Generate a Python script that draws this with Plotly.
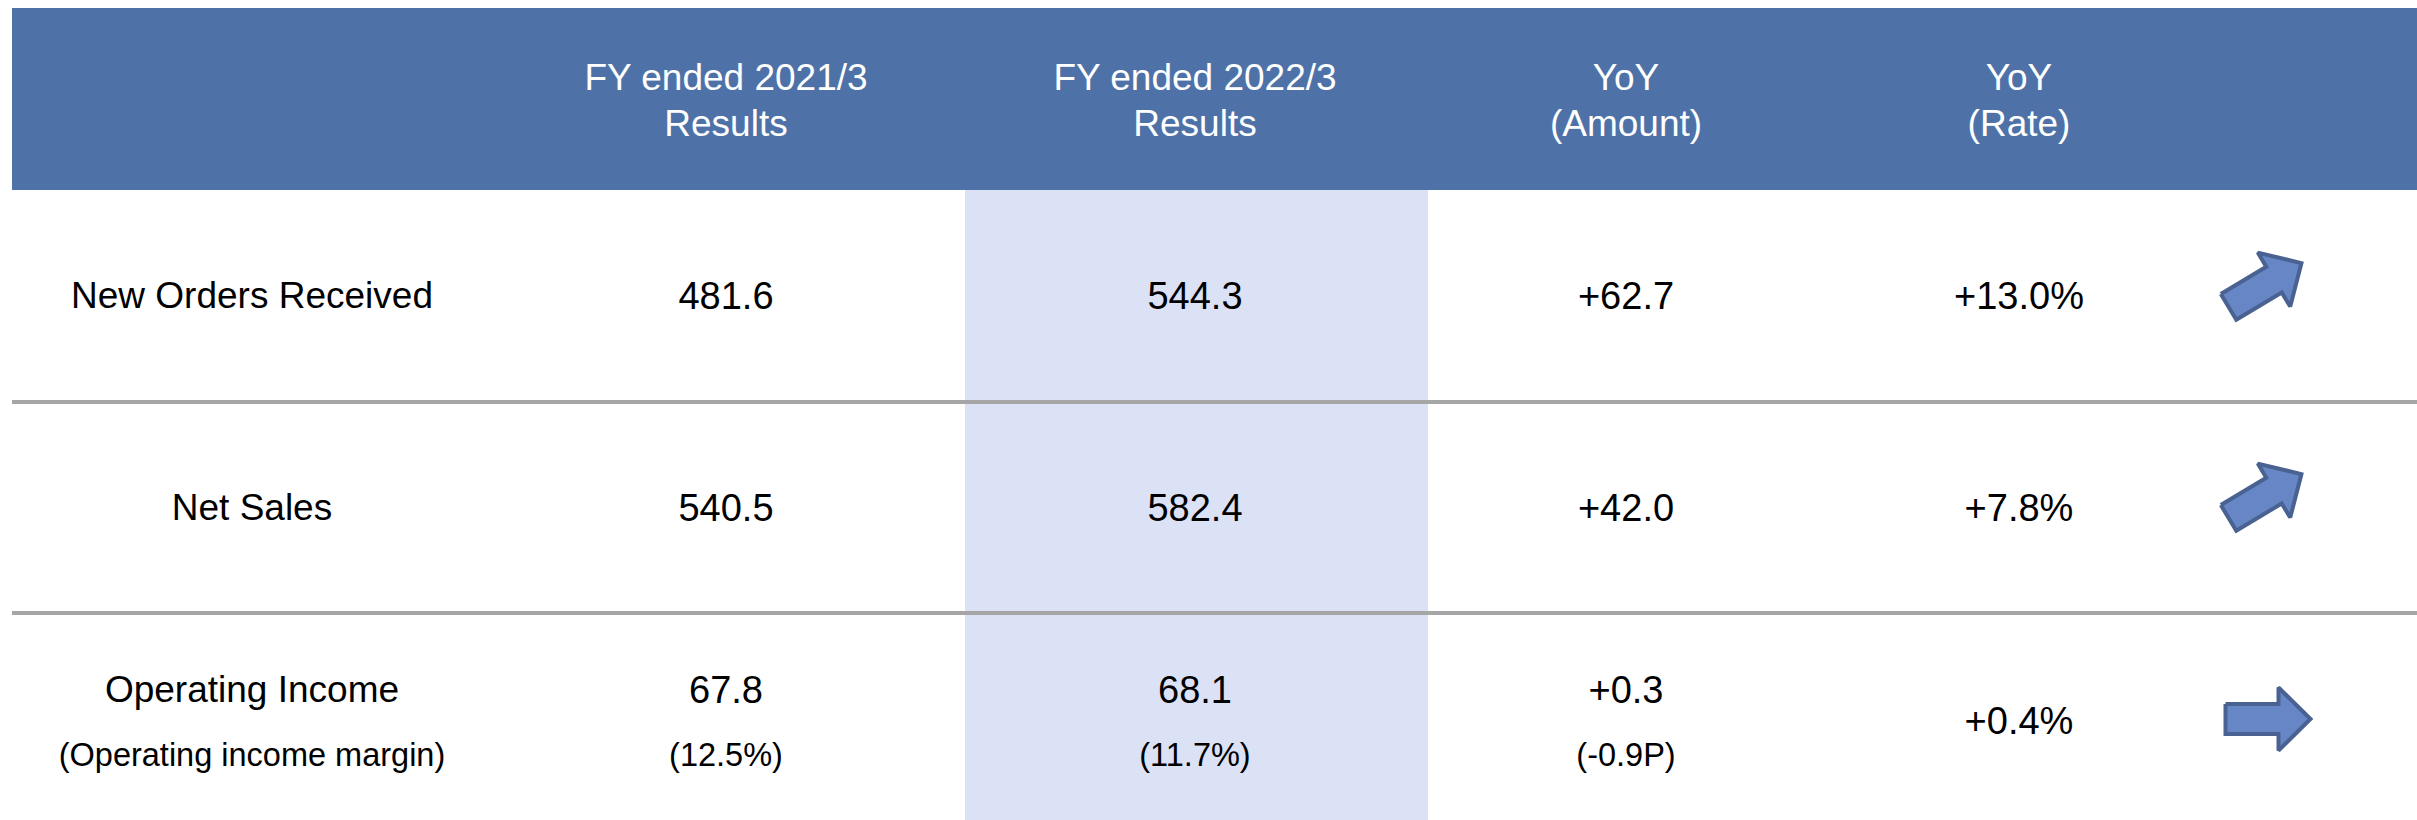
import math
import plotly.graph_objects as go

# ---- data ----
header_labels = ['FY ended 2021/3<br>Results', 'FY ended 2022/3<br>Results',
                 'YoY<br>(Amount)', 'YoY<br>(Rate)']
row_labels = ['New Orders Received', 'Net Sales', 'Operating Income']
row_sublabels = ['', '', '(Operating income margin)']
fy2021 = ['481.6', '540.5', '67.8']
fy2022 = ['544.3', '582.4', '68.1']
yoy_amount = ['+62.7', '+42.0', '+0.3']
yoy_rate = ['+13.0%', '+7.8%', '+0.4%']
fy2021_sub = ['', '', '(12.5%)']
fy2022_sub = ['', '', '(11.7%)']
yoy_amount_sub = ['', '', '(-0.9P)']
trend_angle = [31, 31, 0]          # arrow direction in degrees

# ---- layout (pixels) ----
W, H = 2417, 820
FONT = 'Liberation Sans, Arial, sans-serif'
HEADER_BLUE = '#4E72A8'
HIGHLIGHT = '#DCE2F6'
SEP_GRAY = '#A6A6A6'
ARROW_FILL = '#6686C5'
ARROW_LINE = '#4A6291'

TXT_DY = 3                        # plotly draws text a bit above its y
label_x = 252
col_x = [726, 1195, 1626, 2019]
arrow_x = [2265, 2265, 2268]
header_top, header_bot = 8, 190
header_line_y = [78, 124]
row_bot = [402, 613, 820]
row_y = [296, 508, 717]
row_main_y = [296, 508, 690]     # when a sub line exists
row_sub_y = [296, 508, 755]
arrow_y = [285, 496, 719]


def arrow_poly(cx, cy, ang):
    # block arrow, local frame: u along the arrow, v across
    L, hl, sw, hw = 85, 32, 15, 31.5
    pts = [(-L / 2, -sw), (L / 2 - hl, -sw), (L / 2 - hl, -hw), (L / 2, 0),
           (L / 2 - hl, hw), (L / 2 - hl, sw), (-L / 2, sw), (-L / 2, -sw)]
    t = math.radians(ang)
    xs = [cx + u * math.cos(t) + v * math.sin(t) for u, v in pts]
    ys = [cy - u * math.sin(t) + v * math.cos(t) for u, v in pts]
    return xs, ys


fig = go.Figure()

shapes = [
    dict(type='rect', x0=12, x1=W, y0=header_top, y1=header_bot,
         fillcolor=HEADER_BLUE, line_width=0, layer='below'),
    dict(type='rect', x0=965, x1=1428, y0=header_bot, y1=H,
         fillcolor=HIGHLIGHT, line_width=0, layer='below'),
]
for yb in row_bot[:-1]:
    shapes.append(dict(type='line', x0=12, x1=W, y0=yb, y1=yb,
                       line=dict(color=SEP_GRAY, width=4), layer='below'))

# header text
hx, hy, ht = [], [], []
for x, lab in zip(col_x, header_labels):
    for y, part in zip(header_line_y, lab.split('<br>')):
        hx.append(x)
        hy.append(y + TXT_DY)
        ht.append(part)
fig.add_trace(go.Scatter(x=hx, y=hy, text=ht, mode='text', hoverinfo='skip',
                         textfont=dict(family=FONT, size=37, color='white')))

# row labels and values
lx, ly, lt = [], [], []
sx, sy, st = [], [], []
vx, vy, vt = [], [], []
cols = [fy2021, fy2022, yoy_amount, yoy_rate]
subs = [fy2021_sub, fy2022_sub, yoy_amount_sub, ['', '', '']]
for i in range(len(row_labels)):
    has_sub = row_sublabels[i] != ''
    lx.append(label_x)
    ly.append((row_main_y[i] if has_sub else row_y[i]) + TXT_DY)
    lt.append(row_labels[i])
    if has_sub:
        sx.append(label_x)
        sy.append(row_sub_y[i] + TXT_DY)
        st.append(row_sublabels[i])
    for x, col, sub in zip(col_x, cols, subs):
        vx.append(x)
        y = row_main_y[i] if sub[i] else row_y[i] + (4 if has_sub else 0)
        vy.append(y + TXT_DY)
        vt.append(col[i])
        if sub[i]:
            sx.append(x)
            sy.append(row_sub_y[i] + TXT_DY)
            st.append(sub[i])

fig.add_trace(go.Scatter(x=lx, y=ly, text=lt, mode='text', hoverinfo='skip',
                         textfont=dict(family=FONT, size=37, color='black')))
fig.add_trace(go.Scatter(x=vx, y=vy, text=vt, mode='text', hoverinfo='skip',
                         textfont=dict(family=FONT, size=38, color='black')))
fig.add_trace(go.Scatter(x=sx, y=sy, text=st, mode='text', hoverinfo='skip',
                         textfont=dict(family=FONT, size=32.5, color='black')))

# trend arrows
for ang, ax, ay in zip(trend_angle, arrow_x, arrow_y):
    xs, ys = arrow_poly(ax, ay, ang)
    fig.add_trace(go.Scatter(x=xs, y=ys, mode='lines', fill='toself',
                             fillcolor=ARROW_FILL, hoverinfo='skip',
                             line=dict(color=ARROW_LINE, width=4)))

fig.update_xaxes(range=[0, W], visible=False, fixedrange=True)
fig.update_yaxes(range=[H, 0], visible=False, fixedrange=True)
fig.update_layout(width=W, height=H, margin=dict(l=0, r=0, t=0, b=0),
                  plot_bgcolor='white', paper_bgcolor='white',
                  showlegend=False, shapes=shapes)

# drop the default page margin so the figure sits at the window corner
fig.write_html('out.html', config={'displayModeBar': False},
               post_script="document.body.style.margin='0';")
